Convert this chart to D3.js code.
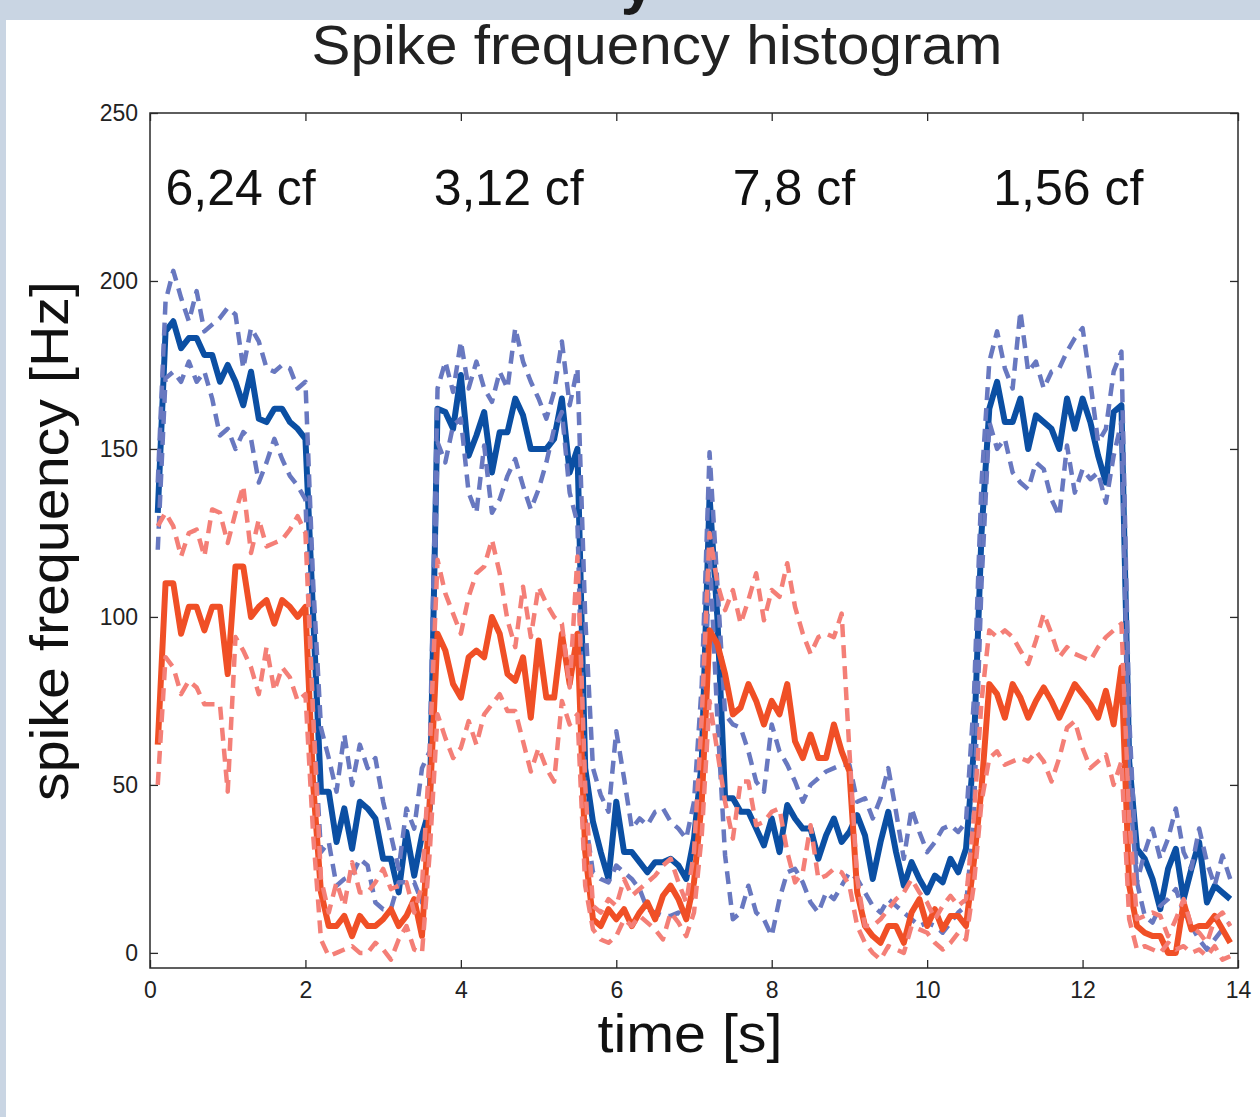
<!DOCTYPE html>
<html>
<head>
<meta charset="utf-8">
<script src="https://cdn.jsdelivr.net/npm/d3@7"></script>
<style>
  html, body { margin: 0; padding: 0; background: #fff; }
  svg { display: block; }
</style>
</head>
<body>
<div id="chart"></div>
<script>
// Bin centres in seconds (0.1 s bins)
const times = d3.range(1, 140).map(i => i / 10);

// Mean spike frequency, condition 1 (blue solid)
const blueMean = [
  131,185,188,180,183,183,178,178,170,175,
  170,163,173,159,158,162,162,158,156,153,
  100,48,48,33,43,31,45,43,40,28,
  28,18,36,23,35,43,162,161,156,172,
  148,154,161,143,155,155,165,160,150,150,
  150,153,165,143,150,55,39,30,22,45,
  30,30,27,24,27,27,28,26,22,34,
  57,136,100,46,46,42,42,37,32,40,
  30,44,40,37,37,28,35,40,33,36,
  41,35,22,33,42,30,20,27,22,18,
  23,21,28,24,31,60,125,162,170,158,
  158,165,150,160,158,156,150,165,156,165,
  158,148,140,161,163,57,31,28,22,13,
  25,31,16,25,33,15,20,18,16
];
const blueUpper = [
  140,194,203,195,188,197,185,187,189,192,
  190,174,186,182,174,173,175,174,168,170,
  110,67,58,48,65,50,62,55,58,45,
  35,25,43,37,55,60,168,176,167,182,
  168,176,168,164,173,168,186,176,170,165,
  159,167,182,163,174,100,55,47,42,66,
  52,37,40,38,42,43,39,37,34,45,
  80,149,110,71,68,67,60,51,48,68,
  60,56,51,45,50,52,54,55,56,56,
  45,46,40,46,55,42,28,43,36,30,
  33,37,38,36,39,75,140,176,185,174,
  168,191,173,176,168,173,174,179,183,186,
  170,152,156,173,179,70,21,30,37,28,
  34,43,30,25,37,27,20,29,22
];
const blueLower = [
  120,171,173,170,176,170,173,165,154,156,
  150,155,153,140,146,153,147,142,139,135,
  70,30,33,20,22,23,28,26,15,13,
  13,21,21,21,15,40,152,146,157,159,
  137,131,151,131,135,142,147,139,132,138,
  146,156,161,137,128,40,24,22,21,26,
  24,22,19,13,12,11,11,12,10,19,
  45,120,70,29,10,12,20,12,10,5,
  16,24,25,21,15,12,18,16,20,24,
  22,18,14,12,16,14,12,10,8,9,
  8,6,9,12,14,40,110,158,150,153,
  143,140,138,146,144,135,130,151,137,144,
  141,143,134,148,158,50,21,11,9,14,
  16,19,12,8,4,1,4,7,9
];

// Mean spike frequency, condition 2 (red solid)
const redMean = [
  62,110,110,95,103,103,96,103,103,83,
  115,115,100,103,105,98,105,103,100,103,
  50,18,8,8,11,5,11,8,8,10,
  13,8,11,16,5,45,95,90,80,76,
  88,90,88,100,95,83,81,88,70,93,
  76,76,95,80,95,30,10,8,13,10,
  13,8,12,15,10,17,20,16,10,21,
  45,96,92,83,71,73,80,75,68,75,
  71,80,63,58,65,58,58,68,60,54,
  18,8,5,3,8,8,3,12,16,8,
  13,7,11,11,8,27,49,80,77,70,
  80,76,70,75,79,75,70,75,80,77,
  74,70,78,68,85,20,8,6,5,5,
  0,0,15,7,8,8,11,7,3
];
const redUpper = [
  127,131,127,118,125,126,118,132,131,122,
  131,139,119,129,121,122,123,126,130,125,
  70,22,12,21,14,27,18,18,21,25,
  19,20,21,12,20,60,117,107,101,95,
  106,113,115,123,113,99,91,109,94,109,
  104,100,98,79,118,50,14,12,16,14,
  22,17,19,21,23,26,28,21,15,30,
  70,125,110,102,108,98,105,113,99,108,
  106,116,103,95,89,94,95,94,101,60,
  22,8,8,10,13,16,18,22,18,15,
  10,14,17,14,16,40,75,96,94,96,
  94,90,86,93,101,95,88,91,89,88,
  87,91,94,96,98,40,10,11,12,11,
  5,10,16,8,6,3,10,12,8
];
const redLower = [
  50,88,85,77,81,79,74,74,74,48,
  94,90,85,77,91,78,85,82,75,77,
  35,4,-1,0,1,2,0,0,3,1,
  -2,4,8,1,0,30,71,64,58,61,
  69,62,71,74,77,72,72,63,54,61,
  55,51,75,68,71,20,7,4,3,5,
  10,8,11,9,7,4,12,9,5,12,
  35,75,60,45,34,51,51,38,39,42,
  43,30,21,24,38,22,23,25,24,20,
  8,3,0,-2,2,1,0,8,7,6,
  3,1,3,6,4,20,45,58,60,56,
  57,58,57,60,57,51,58,67,69,61,
  55,57,59,50,57,10,1,2,1,0,
  3,1,2,0,1,-1,2,-2,-1
];

const xTicks = [0, 2, 4, 6, 8, 10, 12, 14];
const yTicks = [0, 50, 100, 150, 200, 250];
const labels = [
  { t: 0.2, text: "6,24 cf" },
  { t: 3.65, text: "3,12 cf" },
  { t: 7.5, text: "7,8 cf" },
  { t: 10.85, text: "1,56 cf" }
];

const W = 1260, H = 1117;
const FONT = "'Liberation Sans', Arial, Helvetica, sans-serif";

const svg = d3.select("#chart").append("svg")
  .attr("width", W)
  .attr("height", H);

// slide background frame
svg.append("rect").attr("x", 0).attr("y", 0).attr("width", W).attr("height", H).attr("fill", "#c9d5e3");
svg.append("rect").attr("x", 6).attr("y", 20).attr("width", W - 6).attr("height", H - 20).attr("fill", "#ffffff");

// slide heading above, mostly off the top edge (only the descender shows)
svg.append("text")
  .attr("x", 638).attr("y", 2)
  .attr("text-anchor", "middle")
  .attr("font-family", FONT).attr("font-weight", "bold")
  .attr("font-size", 62).attr("fill", "#1a1a1a")
  .text("y");

// Title
svg.append("text")
  .attr("x", 657).attr("y", 64)
  .attr("text-anchor", "middle")
  .attr("font-family", FONT).attr("font-size", 56)
  .attr("fill", "#222")
  .attr("textLength", 691).attr("lengthAdjust", "spacingAndGlyphs")
  .text("Spike frequency histogram");

const plotLeft = 150, plotRight = 1238, plotTop = 113, plotBottom = 968;

const x = d3.scaleLinear().domain([0, 14]).range([plotLeft, plotRight]);
const y = d3.scaleLinear().domain([-4.5, 250]).range([plotBottom, plotTop]);

svg.append("defs").append("clipPath").attr("id", "plotclip")
  .append("rect")
  .attr("x", plotLeft).attr("y", plotTop)
  .attr("width", plotRight - plotLeft).attr("height", plotBottom - plotTop);

// Axes: ticks point inward on all four sides
const tickLen = 8;
const axisColor = "#2a2a2a";

const gx = svg.append("g").attr("transform", `translate(0,${plotBottom})`)
  .call(d3.axisBottom(x).tickValues(xTicks).tickSize(-tickLen).tickPadding(14).tickFormat(d3.format("d")));
const gxTop = svg.append("g").attr("transform", `translate(0,${plotTop})`)
  .call(d3.axisTop(x).tickValues(xTicks).tickSize(-tickLen).tickFormat(""));
const gy = svg.append("g").attr("transform", `translate(${plotLeft},0)`)
  .call(d3.axisLeft(y).tickValues(yTicks).tickSize(-tickLen).tickPadding(12).tickFormat(d3.format("d")));
const gyRight = svg.append("g").attr("transform", `translate(${plotRight},0)`)
  .call(d3.axisRight(y).tickValues(yTicks).tickSize(-tickLen).tickFormat(""));

[gx, gxTop, gy, gyRight].forEach(g => {
  g.select(".domain").remove();
  g.selectAll(".tick line").attr("stroke", axisColor).attr("stroke-width", 1.3);
  g.selectAll(".tick text")
    .attr("font-family", FONT).attr("font-size", 23).attr("fill", "#222");
});

// Series
const series = [
  { values: blueMean, color: "#0b4fa3", width: 6, dash: null },
  { values: blueUpper, color: "#6878c0", width: 4.5, dash: "13,8" },
  { values: blueLower, color: "#6878c0", width: 4.5, dash: "13,8" },
  { values: redMean, color: "#f04f26", width: 6, dash: null },
  { values: redUpper, color: "#f47f77", width: 4.5, dash: "13,8" },
  { values: redLower, color: "#f47f77", width: 4.5, dash: "13,8" }
];

const line = d3.line()
  .x((d, i) => x(times[i]))
  .y(d => y(d));

const plot = svg.append("g").attr("clip-path", "url(#plotclip)");
series.forEach(s => {
  plot.append("path")
    .datum(s.values)
    .attr("d", line)
    .attr("fill", "none")
    .attr("stroke", s.color)
    .attr("stroke-width", s.width)
    .attr("stroke-linejoin", "round")
    .attr("stroke-dasharray", s.dash);
});

// Plot frame
svg.append("rect")
  .attr("x", plotLeft).attr("y", plotTop)
  .attr("width", plotRight - plotLeft).attr("height", plotBottom - plotTop)
  .attr("fill", "none")
  .attr("stroke", axisColor).attr("stroke-width", 1.5);

// Stimulus annotations
svg.selectAll(".cf")
  .data(labels)
  .enter().append("text")
  .attr("class", "cf")
  .attr("x", d => x(d.t))
  .attr("y", 205)
  .attr("font-family", FONT).attr("font-size", 50)
  .attr("fill", "#111")
  .text(d => d.text);

// Axis labels
svg.append("text")
  .attr("x", 690).attr("y", 1052)
  .attr("text-anchor", "middle")
  .attr("font-family", FONT).attr("font-size", 54)
  .attr("fill", "#111")
  .attr("textLength", 185).attr("lengthAdjust", "spacingAndGlyphs")
  .text("time [s]");

svg.append("text")
  .attr("transform", "translate(68,541) rotate(-90)")
  .attr("text-anchor", "middle")
  .attr("font-family", FONT).attr("font-size", 54)
  .attr("fill", "#111")
  .attr("textLength", 520).attr("lengthAdjust", "spacingAndGlyphs")
  .text("spike frequency [Hz]");
</script>
</body>
</html>
